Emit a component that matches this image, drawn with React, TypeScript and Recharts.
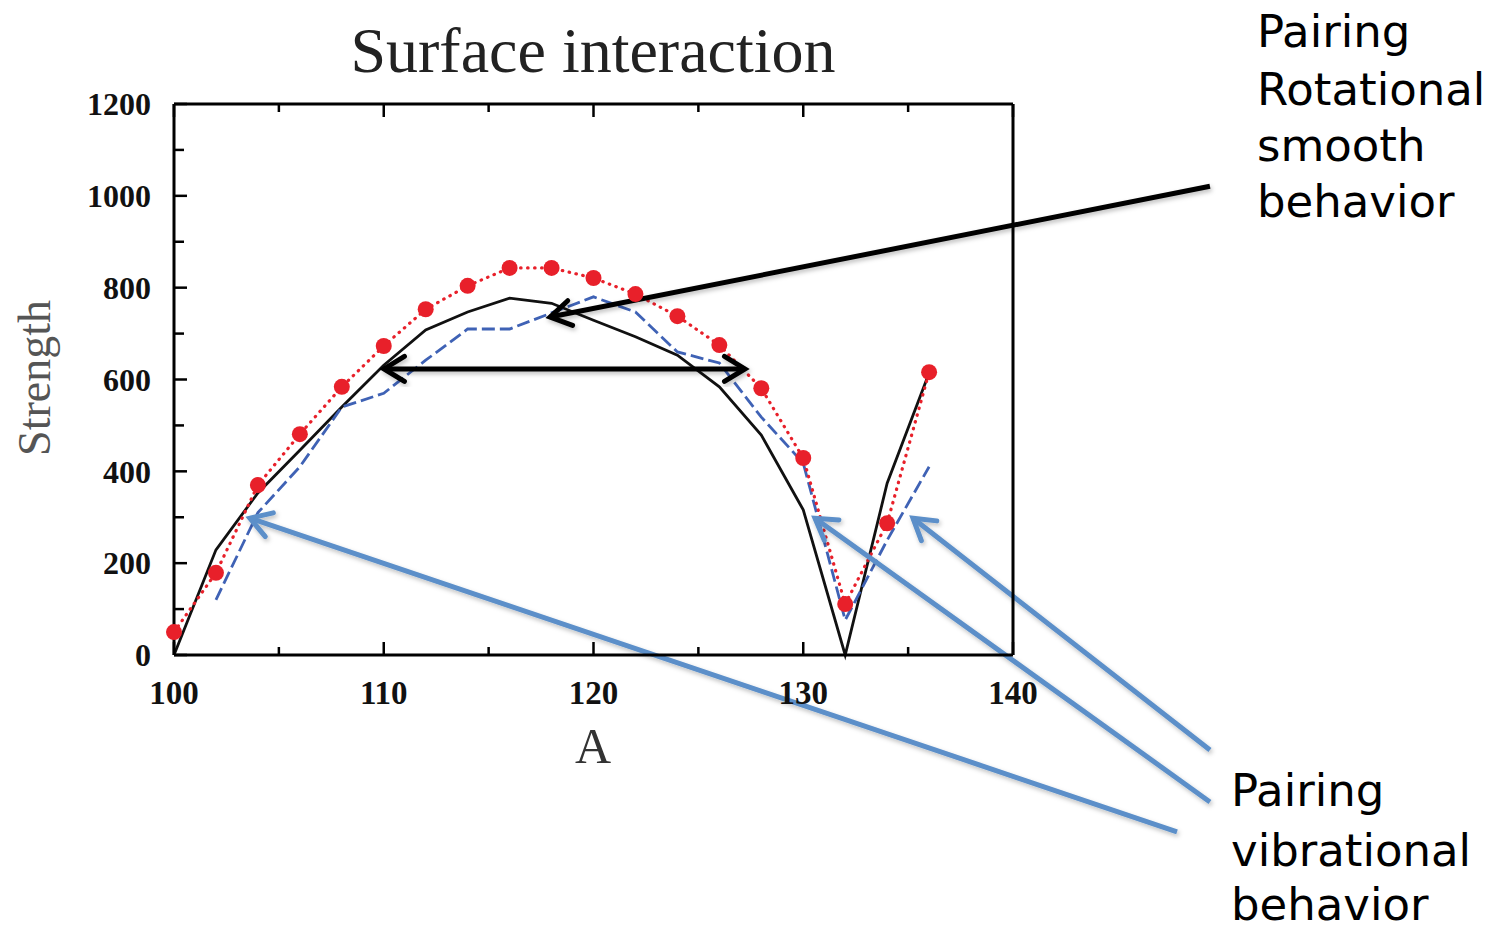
import React from 'react';
import { ComposedChart, Line, XAxis, YAxis, ReferenceLine } from 'recharts';

// Mass number A, sampled every 2 units
const massNumbers = [100, 102, 104, 106, 108, 110, 112, 114, 116, 118, 120, 122, 124, 126, 128, 130, 132, 134, 136];
// Solid black curve
const rotationalCurve = [0, 229, 353, 446, 540, 631, 708, 747, 777, 766, 729, 693, 653, 584, 479, 316, 0, 374, 614];
// Dashed blue curve (starts at A = 102)
const vibrationalCurve = [null, 120, 310, 410, 540, 570, 642, 710, 710, 745, 780, 747, 660, 636, 518, 418, 76, 250, 410];
// Red points joined by a dotted line
const measuredStrength = [50, 179, 370, 481, 584, 673, 753, 804, 843, 843, 821, 786, 738, 675, 581, 429, 111, 287, 616];

const xTicks = [100, 105, 110, 115, 120, 125, 130, 135, 140];
const yTicks = [0, 100, 200, 300, 400, 500, 600, 700, 800, 900, 1000, 1100, 1200];

// Annotation arrows, endpoints in data units (tail -> head)
const rotationalArrow = [{ x: 149.39, y: 1021 }, { x: 117.93, y: 736 }];
const widthArrow = [{ x: 110.01, y: 623 }, { x: 127.22, y: 623 }];
const vibrationalArrows = [
  [{ x: 147.82, y: -385 }, { x: 103.62, y: 298 }],
  [{ x: 149.39, y: -320 }, { x: 130.56, y: 298 }],
  [{ x: 149.39, y: -207 }, { x: 135.23, y: 298 }],
];

const rows = massNumbers.map((a, i) => ({
  a,
  rotational: rotationalCurve[i],
  vibrational: vibrationalCurve[i],
  measured: measuredStrength[i],
}));

const SERIF = '"Liberation Serif", "DejaVu Serif", serif';
const HAND = '"DejaVu Sans", "Open Sans", sans-serif';

const BottomTick = (props: any) => {
  const { x, y, payload } = props;
  const major = payload.value % 10 === 0;
  return (
    <g>
      <line x1={x} y1={y} x2={x} y2={y - (major ? 13 : 8)} stroke="#000" strokeWidth={2.5} />
      {major && (
        <text x={x} y={y + 49} textAnchor="middle" fontFamily={SERIF} fontWeight="bold" fontSize={33} fill="#111">
          {payload.value}
        </text>
      )}
    </g>
  );
};

const TopTick = (props: any) => {
  const { x, y, payload } = props;
  const major = payload.value % 10 === 0;
  return <line x1={x} y1={y} x2={x} y2={y + (major ? 13 : 8)} stroke="#000" strokeWidth={2.5} />;
};

const LeftTick = (props: any) => {
  const { x, y, payload } = props;
  const major = payload.value % 200 === 0;
  return (
    <g>
      <line x1={x} y1={y} x2={x + (major ? 13 : 10)} y2={y} stroke="#000" strokeWidth={2.5} />
      {major && (
        <text x={x - 23} y={y} dy="0.35em" textAnchor="end" fontFamily={SERIF} fontWeight="bold" fontSize={32} fill="#111">
          {payload.value}
        </text>
      )}
    </g>
  );
};

const RightTick = (props: any) => {
  const { x, y, payload } = props;
  const major = payload.value % 200 === 0;
  return <line x1={x} y1={y} x2={x - (major ? 13 : 10)} y2={y} stroke="#000" strokeWidth={2.5} />;
};

const chevron = (tx: number, ty: number, fx: number, fy: number, len: number) => {
  const ang = Math.atan2(fy - ty, fx - tx);
  const spread = 0.55;
  const ax = tx + len * Math.cos(ang + spread);
  const ay = ty + len * Math.sin(ang + spread);
  const bx = tx + len * Math.cos(ang - spread);
  const by = ty + len * Math.sin(ang - spread);
  return `M${ax},${ay} L${tx},${ty} L${bx},${by}`;
};

const makeArrow = (color: string, both: boolean) => (p: any) => {
  const { x1, y1, x2, y2 } = p;
  return (
    <g filter="url(#arrowShadow)">
      <line x1={x1} y1={y1} x2={x2} y2={y2} stroke={color} strokeWidth={5} />
      <path d={chevron(x2, y2, x1, y1, 24)} fill="none" stroke={color} strokeWidth={5} strokeLinecap="round" strokeLinejoin="miter" />
      {both && (
        <path d={chevron(x1, y1, x2, y2, 24)} fill="none" stroke={color} strokeWidth={5} strokeLinecap="round" strokeLinejoin="miter" />
      )}
    </g>
  );
};

const blueArrow = makeArrow('#5b8fc9', false);
const blackArrow = makeArrow('#000', false);
const doubleArrow = makeArrow('#000', true);

export default function App() {
  return (
    <div style={{ position: 'absolute', left: 0, top: 0, width: 1504, height: 933, background: '#fff' }}>
      <svg width={0} height={0} style={{ position: 'absolute' }}>
        <defs>
          <filter id="arrowShadow" x="-10%" y="-10%" width="120%" height="130%">
            <feDropShadow dx="1.5" dy="2.5" stdDeviation="2" floodColor="#000" floodOpacity="0.25" />
          </filter>
        </defs>
      </svg>
      <ComposedChart
        width={1504}
        height={933}
        data={rows}
        margin={{ top: 74, right: 461, bottom: 178, left: 94 }}
      >
        <XAxis
          xAxisId="bottom"
          dataKey="a"
          type="number"
          domain={[100, 140]}
          ticks={xTicks}
          interval={0}
          orientation="bottom"
          height={100}
          tickSize={0}
          tickMargin={0}
          axisLine={{ stroke: '#000', strokeWidth: 3 }}
          tickLine={false}
          tick={<BottomTick />}
        />
        <XAxis
          xAxisId="top"
          dataKey="a"
          type="number"
          domain={[100, 140]}
          ticks={xTicks}
          interval={0}
          orientation="top"
          height={30}
          tickSize={0}
          tickMargin={0}
          axisLine={{ stroke: '#000', strokeWidth: 3 }}
          tickLine={false}
          tick={<TopTick />}
        />
        <YAxis
          yAxisId="left"
          type="number"
          domain={[0, 1200]}
          ticks={yTicks}
          interval={0}
          orientation="left"
          width={80}
          tickSize={0}
          tickMargin={0}
          axisLine={{ stroke: '#000', strokeWidth: 3 }}
          tickLine={false}
          tick={<LeftTick />}
        />
        <YAxis
          yAxisId="right"
          type="number"
          domain={[0, 1200]}
          ticks={yTicks}
          interval={0}
          orientation="right"
          width={30}
          tickSize={0}
          tickMargin={0}
          axisLine={{ stroke: '#000', strokeWidth: 3 }}
          tickLine={false}
          tick={<RightTick />}
        />
        <Line
          xAxisId="bottom"
          yAxisId="left"
          dataKey="rotational"
          type="linear"
          stroke="#111"
          strokeWidth={2.8}
          dot={false}
          isAnimationActive={false}
        />
        <Line
          xAxisId="bottom"
          yAxisId="left"
          dataKey="vibrational"
          type="linear"
          stroke="#3f62b5"
          strokeWidth={2.8}
          strokeDasharray="13 5"
          dot={false}
          connectNulls={false}
          isAnimationActive={false}
        />
        <Line
          xAxisId="bottom"
          yAxisId="left"
          dataKey="measured"
          type="linear"
          stroke="#e8202a"
          strokeWidth={3.2}
          strokeDasharray="0.5 6.5"
          strokeLinecap="round"
          dot={{ r: 8, fill: '#e8202a', stroke: 'none', strokeDasharray: '' }}
          isAnimationActive={false}
        />
        <ReferenceLine
          xAxisId="bottom"
          yAxisId="left"
          segment={widthArrow}
          ifOverflow="visible"
          stroke="#000"
          shape={doubleArrow}
        />
        <ReferenceLine
          xAxisId="bottom"
          yAxisId="left"
          segment={rotationalArrow}
          ifOverflow="visible"
          stroke="#000"
          shape={blackArrow}
        />
        {vibrationalArrows.map((seg, i) => (
          <ReferenceLine
            key={i}
            xAxisId="bottom"
            yAxisId="left"
            segment={seg}
            ifOverflow="visible"
            stroke="#5b8fc9"
            shape={blueArrow}
          />
        ))}
      </ComposedChart>
      <svg
        width={1504}
        height={933}
        style={{ position: 'absolute', left: 0, top: 0, pointerEvents: 'none' }}
      >
        <text x={593} y={72} textAnchor="middle" fontFamily={SERIF} fontSize={64} fill="#222">
          Surface interaction
        </text>
        <text x={593} y={763} textAnchor="middle" fontFamily={SERIF} fontSize={50} fill="#333">
          A
        </text>
        <text
          x={0}
          y={0}
          transform="translate(50,378) rotate(-90)"
          textAnchor="middle"
          fontFamily={SERIF}
          fontSize={46}
          fill="#555"
        >
          Strength
        </text>
        <g fontFamily={HAND} fontSize={45} fill="#000">
          <text x={1257} y={47}>Pairing</text>
          <text x={1257} y={105}>Rotational</text>
          <text x={1257} y={161}>smooth</text>
          <text x={1257} y={217}>behavior</text>
          <text x={1231} y={806}>Pairing</text>
          <text x={1231} y={866}>vibrational</text>
          <text x={1231} y={920}>behavior</text>
        </g>
      </svg>
    </div>
  );
}
